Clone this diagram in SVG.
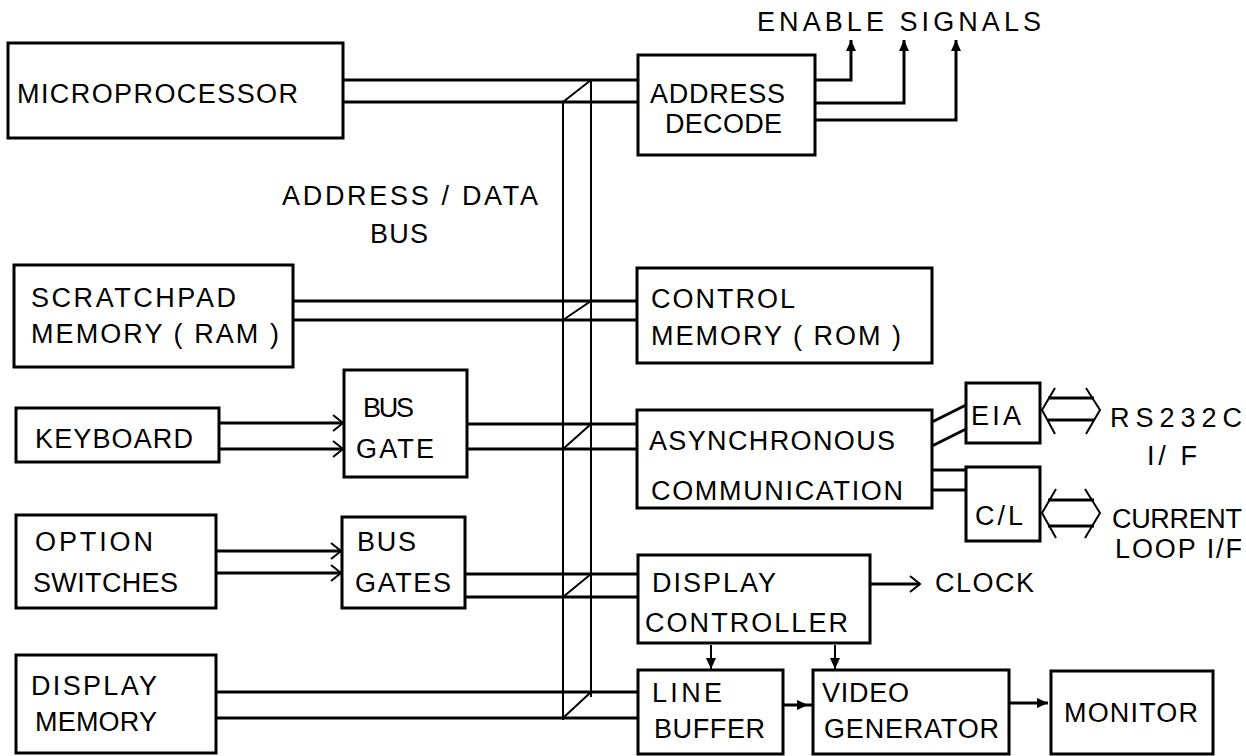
<svg xmlns="http://www.w3.org/2000/svg" width="1246" height="756" viewBox="0 0 1246 756">
<style>
.box{fill:none;stroke:#000;stroke-width:3}
.ln{fill:none;stroke:#000;stroke-width:3}
.vb{fill:none;stroke:#000;stroke-width:2}
.t{font-family:"Liberation Sans",Arial,sans-serif;font-size:27px;fill:#000}
</style>
<defs>
<marker id="fa" markerUnits="userSpaceOnUse" markerWidth="12" markerHeight="10" refX="11" refY="5" orient="auto"><path d="M0,0 L11,5 L0,10 z" fill="#000"/></marker>
<marker id="ch" markerUnits="userSpaceOnUse" markerWidth="14" markerHeight="18" refX="12" refY="9" orient="auto"><path d="M2,1 L12,9 L2,17" fill="none" stroke="#000" stroke-width="2"/></marker>
</defs>
<rect width="1246" height="756" fill="#fff"/>

<g id="connectors">
<path class="vb" d="M563,102 V720 M591,80 V697"/>
<path class="vb" d="M563,102 L591,80 M563,320 L591,301 M563,449 L591,424 M563,597 L591,574 M563,718 L591,692"/>
<path class="ln" d="M343,80 H638 M343,102 H638"/>
<path class="ln" d="M293,301 H637 M293,320 H637"/>
<path class="ln" d="M467,424 H637 M467,449 H637"/>
<path class="ln" d="M465,574 H638 M465,597 H638"/>
<path class="ln" d="M216,692 H638 M216,718 H638"/>
<path class="ln" marker-end="url(#ch)" d="M219,423 H343"/>
<path class="ln" marker-end="url(#ch)" d="M219,449 H343"/>
<path class="ln" marker-end="url(#ch)" d="M216,551 H341"/>
<path class="ln" marker-end="url(#ch)" d="M216,573 H341"/>
<path class="ln" marker-end="url(#fa)" d="M815,80 H851 V40"/>
<path class="ln" marker-end="url(#fa)" d="M815,103 H904 V40"/>
<path class="ln" marker-end="url(#fa)" d="M815,120 H956 V40"/>
<path class="ln" d="M932,422 L966,405 M932,446 L966,429"/>
<path class="ln" d="M932,470 H966 M932,490 H966"/>
<path class="ln" d="M1048,398 H1094 M1048,420 H1094"/>
<path class="vb" d="M1055,388 L1042,410 L1055,434 M1086,388 L1100,410 L1086,434"/>
<path class="ln" d="M1048,500 H1094 M1048,526 H1094"/>
<path class="vb" d="M1056,489 L1042,513 L1056,538 M1085,489 L1100,513 L1085,538"/>
<path class="ln" marker-end="url(#ch)" d="M870,584 H920"/>
<path class="vb" marker-end="url(#fa)" d="M711,645 V669"/>
<path class="vb" marker-end="url(#fa)" d="M835,645 V669"/>
<path class="ln" marker-end="url(#fa)" d="M783,705 H808"/>
<path class="ln" d="M808,705 H813"/>
<path class="ln" marker-end="url(#fa)" d="M1009,703 H1048"/>
</g>

<g id="microprocessor"><rect class="box" x="8" y="43" width="335" height="95"/><text class="t" x="17" y="103" textLength="281">MICROPROCESSOR</text></g>
<g id="bus-label"><text class="t" x="282" y="205" textLength="256">ADDRESS / DATA</text><text class="t" x="370" y="243" textLength="58">BUS</text></g>
<g id="enable-label"><text class="t" x="757" y="31" textLength="284">ENABLE  SIGNALS</text></g>
<g id="address-decode"><rect class="box" x="638" y="55" width="177" height="100"/><text class="t" x="650" y="103" textLength="135">ADDRESS</text><text class="t" x="665" y="133" textLength="117">DECODE</text></g>
<g id="scratchpad"><rect class="box" x="14" y="265" width="279" height="102"/><text class="t" x="31" y="307" textLength="205">SCRATCHPAD</text><text class="t" x="31" y="343" textLength="248">MEMORY ( RAM )</text></g>
<g id="control-memory"><rect class="box" x="637" y="268" width="295" height="95"/><text class="t" x="651" y="308" textLength="144">CONTROL</text><text class="t" x="651" y="345" textLength="250">MEMORY ( ROM )</text></g>
<g id="keyboard"><rect class="box" x="16" y="408" width="203" height="54"/><text class="t" x="35" y="448" textLength="158">KEYBOARD</text></g>
<g id="bus-gate"><rect class="box" x="344" y="370" width="123" height="107"/><text class="t" x="363" y="417" textLength="51">BUS</text><text class="t" x="356" y="458" textLength="78">GATE</text></g>
<g id="async"><rect class="box" x="637" y="410" width="295" height="98"/><text class="t" x="649" y="450" textLength="246">ASYNCHRONOUS</text><text class="t" x="651" y="500" textLength="252">COMMUNICATION</text></g>
<g id="eia"><rect class="box" x="966" y="383" width="74" height="60"/><text class="t" x="971" y="425" textLength="50">EIA</text></g>
<g id="rs232"><text class="t" x="1110" y="427" textLength="132">RS232C</text><text class="t" x="1147" y="465" textLength="50">I/ F</text></g>
<g id="cl"><rect class="box" x="966" y="467" width="74" height="74"/><text class="t" x="975" y="525" textLength="48">C/L</text></g>
<g id="current-loop"><text class="t" x="1112" y="528" textLength="130">CURRENT</text><text class="t" x="1115" y="558" textLength="127">LOOP I/F</text></g>
<g id="option-switches"><rect class="box" x="16" y="515" width="200" height="93"/><text class="t" x="35" y="551" textLength="118">OPTION</text><text class="t" x="33" y="592" textLength="145">SWITCHES</text></g>
<g id="bus-gates"><rect class="box" x="342" y="517" width="123" height="91"/><text class="t" x="357" y="551" textLength="59">BUS</text><text class="t" x="355" y="592" textLength="96">GATES</text></g>
<g id="display-controller"><rect class="box" x="638" y="555" width="232" height="88"/><text class="t" x="652" y="592" textLength="124">DISPLAY</text><text class="t" x="645" y="632" textLength="203">CONTROLLER</text></g>
<g id="clock"><text class="t" x="935" y="592" textLength="99">CLOCK</text></g>
<g id="display-memory"><rect class="box" x="16" y="655" width="200" height="98"/><text class="t" x="31" y="695" textLength="126">DISPLAY</text><text class="t" x="35" y="731" textLength="122">MEMORY</text></g>
<g id="line-buffer"><rect class="box" x="638" y="670" width="145" height="84"/><text class="t" x="652" y="702" textLength="70">LINE</text><text class="t" x="654" y="738" textLength="111">BUFFER</text></g>
<g id="video-generator"><rect class="box" x="813" y="670" width="196" height="84"/><text class="t" x="822" y="702" textLength="87">VIDEO</text><text class="t" x="824" y="738" textLength="175">GENERATOR</text></g>
<g id="monitor"><rect class="box" x="1051" y="671" width="162" height="83"/><text class="t" x="1064" y="722" textLength="134">MONITOR</text></g>
</svg>
